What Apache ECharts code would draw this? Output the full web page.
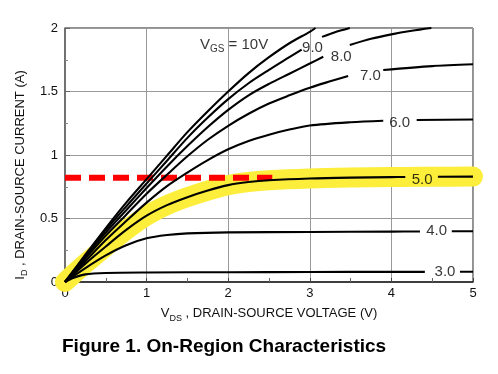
<!DOCTYPE html>
<html><head><meta charset="utf-8">
<script src="https://cdn.jsdelivr.net/npm/echarts@6/dist/echarts.min.js"></script>
<style>html,body{margin:0;padding:0;background:#fff}#c{width:498px;height:374px}</style>
</head><body><div id="c"></div>
<script>
// Tick labels
const xTickLabels = ['0','1','2','3','4','5'];
const yTickLabels = ['0','0.5','1','1.5','2'];

// Curves: [VDS, ID]; null marks a gap where the curve label sits
const c3  = [[0,0],[0.1,0.032],[0.25,0.06],[0.5,0.071],[1,0.075],[2,0.077],[3,0.079],[4,0.08],[4.41,0.08],null,[4.84,0.081],[5,0.081]];
const c4  = [[0,0],[0.25,0.11],[0.5,0.21],[0.75,0.29],[1,0.344],[1.25,0.37],[1.5,0.383],[2,0.391],[3,0.394],[4,0.397],[4.35,0.398],null,[4.74,0.4],[5,0.4]];
const c5  = [[0,0],[0.25,0.145],[0.5,0.28],[0.75,0.41],[1,0.522],[1.25,0.605],[1.5,0.668],[1.75,0.72],[2,0.763],[2.25,0.787],[2.5,0.801],[3,0.815],[3.5,0.822],[4,0.826],[4.17,0.827],null,[4.57,0.829],[5,0.83]];
const c6  = [[0,0],[0.25,0.165],[0.5,0.33],[0.75,0.48],[1,0.625],[1.25,0.755],[1.5,0.862],[1.75,0.96],[2,1.045],[2.25,1.11],[2.5,1.16],[2.75,1.2],[3,1.232],[3.5,1.258],[3.9,1.27],null,[4.31,1.276],[5,1.28]];
const c7  = [[0,0],[0.25,0.185],[0.5,0.365],[0.75,0.53],[1,0.695],[1.25,0.845],[1.5,0.99],[1.75,1.12],[2,1.23],[2.25,1.325],[2.5,1.405],[2.75,1.47],[3,1.53],[3.25,1.58],[3.47,1.622],null,[3.9,1.669],[4.5,1.7],[5,1.714]];
const c8  = [[0,0],[0.25,0.2],[0.5,0.39],[0.75,0.565],[1,0.74],[1.25,0.91],[1.5,1.07],[1.75,1.22],[2,1.355],[2.25,1.47],[2.5,1.56],[2.75,1.64],[3,1.72],[3.165,1.774],null,[3.49,1.866],[3.75,1.915],[4,1.95],[4.25,1.978],[4.49,2.0]];
const c9  = [[0,0],[0.25,0.21],[0.5,0.41],[0.75,0.595],[1,0.775],[1.25,0.955],[1.5,1.135],[1.75,1.295],[2,1.44],[2.25,1.565],[2.5,1.67],[2.75,1.77],[2.9,1.83],null,[3.15,1.93],[3.3,1.965],[3.49,2.0]];
const c10 = [[0,0],[0.25,0.215],[0.5,0.425],[0.75,0.625],[1,0.81],[1.25,0.995],[1.5,1.18],[1.75,1.345],[2,1.5],[2.25,1.645],[2.5,1.77],[2.75,1.88],[3,1.97],[3.07,2.0]];

// Curve labels and their anchor points [VDS, ID]
const curveLabelText = ['3.0','4.0','5.0','6.0','7.0','8.0','9.0'];
const curveLabelPos  = [[4.657,0.081],[4.555,0.404],[4.377,0.807],[4.10,1.25],[3.742,1.62],[3.385,1.77],[3.033,1.84]];
const vgsLabelPos = [1.654, 1.864];

// Red dashed reference line
const redLine = [[0,0.82],[2.54,0.82]];

const FONT = 'Liberation Sans';
const curves = [c3,c4,c5,c6,c7,c8,c9,c10];
const toData = c => c.map(p => p === null ? ['-','-'] : p);

const series = [];
series.push({
  type:'line', data: c5.filter(p => p !== null), symbol:'none', smooth:0.3, clip:false, z:2,
  lineStyle:{color:'#FCEE3A', width:20, cap:'round', join:'round'}, silent:true
});
series.push({
  type:'line', data: redLine, symbol:'none', z:3, clip:false,
  lineStyle:{color:'#FF0000', width:6, type:[16,8]}, silent:true
});
curves.forEach(c => series.push({
  type:'line', data: toData(c), symbol:'none', smooth:0.3, connectNulls:false, z:4,
  lineStyle:{color:'#000', width:2.1}, silent:true
}));
series.push({
  type:'scatter', symbolSize:0, z:5, silent:true,
  data: curveLabelText.map((t,i) => ({value: curveLabelPos[i], text: t})),
  label:{show:true, position:'inside', formatter: p => p.data.text,
    color:'#000', fontFamily:FONT, fontSize:15}
});
series.push({
  type:'scatter', symbolSize:0, z:5, silent:true,
  data: [{value: vgsLabelPos}],
  label:{show:true, position:'inside', align:'left', verticalAlign:'middle',
    formatter:'{v|V}{s|GS}{v| = 10V}',
    rich:{v:{fontFamily:FONT, fontSize:15, color:'#000', lineHeight:18},
          s:{fontFamily:FONT, fontSize:10, color:'#000', lineHeight:10, padding:[7,0,0,0]}}}
});

const chart = echarts.init(document.getElementById('c'), null, {renderer:'canvas'});
chart.setOption({
  animation:false,
  backgroundColor:'#fff',
  title:{text:'Figure 1. On-Region Characteristics', left:62, top:337, padding:0,
    textStyle:{fontFamily:FONT, fontSize:19, fontWeight:'bold', color:'#000'}},
  grid:{left:65, right:25, top:28, bottom:92, show:true, borderColor:'#222', borderWidth:1, backgroundColor:'transparent'},
  xAxis:{type:'value', min:0, max:5, interval:1,
    name:'{v|V}{d|DS}{t| , DRAIN-SOURCE VOLTAGE (V)}', nameLocation:'middle', nameGap:17,
    nameTextStyle:{rich:{v:{fontFamily:FONT,fontSize:13,color:'#111',lineHeight:16},
      d:{fontFamily:FONT,fontSize:9,color:'#111',lineHeight:9,padding:[9,0,0,0]},
      t:{fontFamily:FONT,fontSize:13,color:'#111',lineHeight:16}}},
    axisLine:{show:true, lineStyle:{color:'#222', width:1.5}},
    axisTick:{show:true, inside:true, length:4, lineStyle:{color:'#444'}},
    minorTick:{show:true, splitNumber:2, length:4, lineStyle:{color:'#666'}},
    splitLine:{show:true, lineStyle:{color:'#9a9a9a', width:1}},
    axisLabel:{margin:5, color:'#111', fontFamily:FONT, fontSize:13,
      formatter:(v) => xTickLabels[Math.round(v)]}
  },
  yAxis:{type:'value', min:0, max:2, interval:0.5,
    name:'{i|I}{d|D}{t| , DRAIN-SOURCE CURRENT (A)}', nameLocation:'middle', nameGap:30,
    nameTextStyle:{padding:[0,40,0,0], rich:{i:{fontFamily:FONT,fontSize:13,color:'#111',lineHeight:16},
      d:{fontFamily:FONT,fontSize:9,color:'#111',lineHeight:9,padding:[9,0,0,0]},
      t:{fontFamily:FONT,fontSize:13,color:'#111',lineHeight:16}}},
    axisLine:{show:true, lineStyle:{color:'#666', width:1.5}},
    axisTick:{show:true, inside:true, length:5, lineStyle:{color:'#666'}},
    minorTick:{show:true, splitNumber:2, length:3, lineStyle:{color:'#888'}},
    splitLine:{show:true, lineStyle:{color:'#9a9a9a', width:1}},
    axisLabel:{margin:7, color:'#111', fontFamily:FONT, fontSize:13,
      formatter:(v) => yTickLabels[Math.round(v*2)]}
  },
  series: series
});
</script></body></html>
